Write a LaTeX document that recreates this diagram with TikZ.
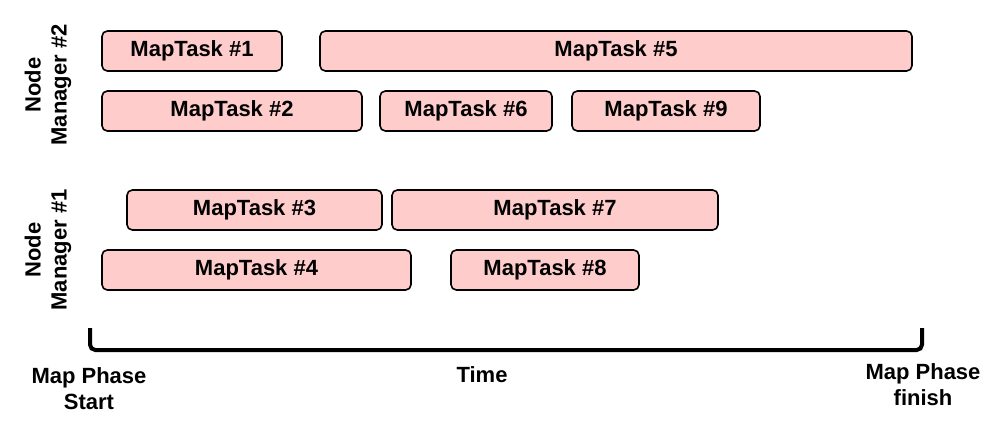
\documentclass[tikz,border=0pt]{standalone}
\usepackage{fontspec}
\setmainfont{Liberation Sans}
\begin{document}
\begin{tikzpicture}
                [x=0.75pt, y=-0.75pt,
                 task/.style={draw, line width=1.2pt, rounded corners=4pt, fill=red!20, minimum height=30pt, inner sep=0pt, font=\fontsize{16.5}{19.5}\selectfont\bfseries},
                 lbl/.style={align=center, font=\fontsize{16.5}{19.5}\selectfont\bfseries},
                 axis/.style={draw, line width=3pt, rounded corners=4pt}]
                \useasboundingbox (0,0) rectangle (999,421);
                % Node Manager #2
                \node[lbl, rotate=90] (nm2) at (48,85) {Node\\Manager \#2};
                \node[task, minimum width=135pt] (t1) at (192,51) {MapTask \#1};
                \node[task, minimum width=444pt] (t5) at (616,51) {MapTask \#5};
                \node[task, minimum width=195pt] (t2) at (232,111) {MapTask \#2};
                \node[task, minimum width=129pt] (t6) at (466,111) {MapTask \#6};
                \node[task, minimum width=141pt] (t9) at (666,111) {MapTask \#9};
                % Node Manager #1
                \node[lbl, rotate=90] (nm1) at (48,250) {Node\\Manager \#1};
                \node[task, minimum width=191.25pt] (t3) at (254.5,210) {MapTask \#3};
                \node[task, minimum width=244.5pt] (t7) at (555,210) {MapTask \#7};
                \node[task, minimum width=231.75pt] (t4) at (256.5,270) {MapTask \#4};
                \node[task, minimum width=141pt] (t8) at (545,270) {MapTask \#8};
                % Time axis
                \coordinate (s) at (90,328);
                \coordinate (f) at (922,328);
                \draw[axis] (s) -- (90,350) -- (922,350) -- (f);
                \node[lbl] (start) at (89,389) {Map Phase\\Start};
                \node[lbl] (time) at (482,375) {Time};
                \node[lbl] (finish) at (923,385) {Map Phase\\finish};
            \end{tikzpicture}
\end{document}
